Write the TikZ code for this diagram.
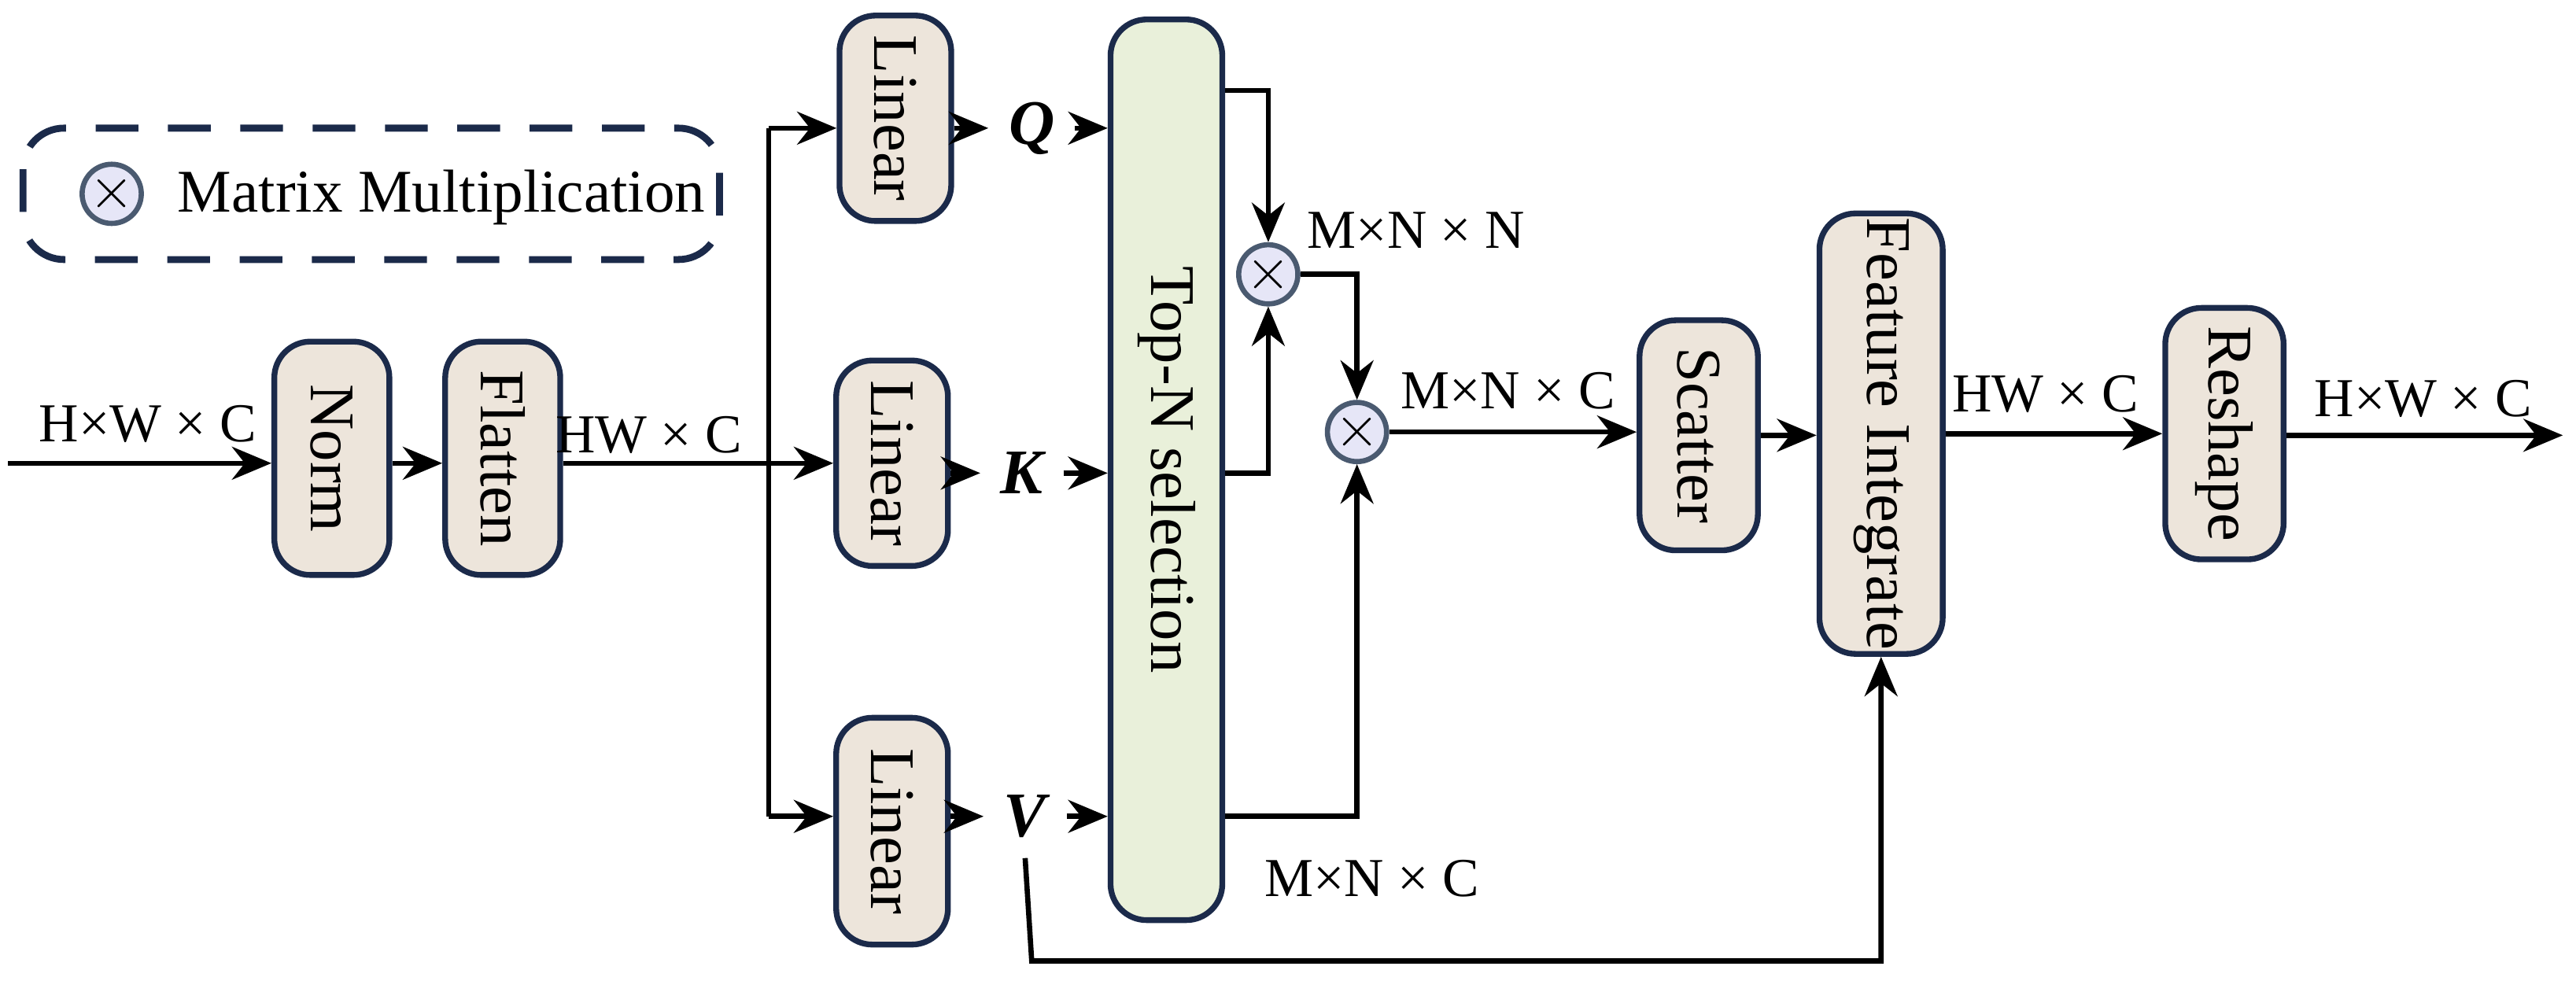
\documentclass[tikz,border=0pt]{standalone}
\usepackage{fontspec}
\setmainfont{Liberation Serif}
\usetikzlibrary{arrows.meta}
\definecolor{edgeblue}{HTML}{1B2A4A}
\definecolor{boxfill}{HTML}{EDE5DB}
\definecolor{selfill}{HTML}{E9F0DA}
\definecolor{mulfill}{HTML}{E6E6F7}
\definecolor{mulline}{HTML}{4A5A70}
\begin{document}
\begin{tikzpicture}[x=0.01cm,y=-0.01cm,
    blk/.style={rectangle, rounded corners=2.2mm, draw=edgeblue, line width=1pt, fill=boxfill, inner sep=0pt},
    lbl/.style={font=\fontsize{11}{13}\selectfont, rotate=-90},
    dim/.style={font=\fontsize{9.5}{11}\selectfont, inner sep=1pt},
    mul/.style={circle, draw=mulline, line width=0.9pt, fill=mulfill, minimum size=0.36cm, inner sep=0pt},
    arr/.style={-{Stealth[length=2.4mm,width=2mm]}, line width=0.9pt}]
    \useasboundingbox (0,0) rectangle (1568,597);

    % legend
    \draw[edgeblue, line width=1.2pt, dash pattern=on 2.6mm off 1.8mm, rounded corners=2.5mm] (14,78) rectangle (438,158);
    \node[mul] (lm) at (68,118) {$\times$};
    \node[dim, anchor=west, font=\fontsize{10.5}{12}\selectfont] (lt) at (104,120) {Matrix Multiplication};

    % blocks
    \node[blk, minimum width=0.7cm, minimum height=1.42cm] (norm) at (202,279) {};
    \node[lbl] at (norm) {Norm};
    \node[blk, minimum width=0.7cm, minimum height=1.42cm] (flat) at (306,279) {};
    \node[lbl] at (flat) {Flatten};
    \node[blk, minimum width=0.68cm, minimum height=1.25cm] (lq) at (545,72) {};
    \node[lbl] at (lq) {Linear};
    \node[blk, minimum width=0.68cm, minimum height=1.25cm] (lk) at (543,282) {};
    \node[lbl] at (lk) {Linear};
    \node[blk, minimum width=0.68cm, minimum height=1.38cm] (lv) at (543,506) {};
    \node[lbl] at (lv) {Linear};
    \node[blk, fill=selfill, minimum width=0.68cm, minimum height=5.48cm] (top) at (710,286) {};
    \node[lbl] at (top) {Top-N selection};
    \node[blk, minimum width=0.72cm, minimum height=1.4cm] (scat) at (1034,265) {};
    \node[lbl] at (scat) {Scatter};
    \node[blk, minimum width=0.75cm, minimum height=2.68cm] (fint) at (1145,264) {};
    \node[lbl] at (fint) {Feature Integrate};
    \node[blk, minimum width=0.72cm, minimum height=1.53cm] (resh) at (1354,264) {};
    \node[lbl] at (resh) {Reshape};

    \node[mul] (m1) at (772,167) {$\times$};
    \node[mul] (m2) at (826,263) {$\times$};

    \node[font=\fontsize{11}{13}\selectfont\bfseries\itshape] (q) at (628,78) {Q};
    \node[font=\fontsize{11}{13}\selectfont\bfseries\itshape] (k) at (622,288) {K};
    \node[font=\fontsize{11}{13}\selectfont\bfseries\itshape] (v) at (624,497) {V};

    \coordinate (in) at (5,282);
    \coordinate (out) at (1560,265);
    \coordinate (br) at (468,282);

    % labels
    \node[dim] at (90,258) {H×W × C};
    \node[dim] at (395,265) {HW × C};
    \node[dim] at (862,140) {M×N × N};
    \node[dim] at (918,238) {M×N × C};
    \node[dim] at (835,535) {M×N × C};
    \node[dim] at (1245,240) {HW × C};
    \node[dim] at (1475,243) {H×W × C};

    % connectors
    \draw[arr] (in) -- (in -| norm.west);
    \draw[arr] (norm.east |- in) -- (flat.west |- in);
    \draw[arr] (flat.east |- in) -- (lk.west |- in);
    \draw[line width=0.9pt] (br |- q) -- (br |- v);
    \draw[arr] (br |- q) -- (lq.west |- q);
    \draw[arr] (br |- v) -- (lv.west |- v);
    \draw[arr] (lq.east |- q) -- (q.west);
    \draw[arr] (q.east) -- (top.west |- q);
    \draw[arr] (lk.east |- k) -- (k.west);
    \draw[arr] (k.east) -- (top.west |- k);
    \draw[arr] (lv.east |- v) -- (v.west);
    \draw[arr] (v.east) -- (top.west |- v);
    \draw[arr] (top.east |- 0,55) -| (m1.north);
    \draw[arr] (top.east |- k) -| (m1.south);
    \draw[arr] (m1.east) -| (m2.north);
    \draw[arr] (top.east |- v) -| (m2.south);
    \draw[arr] (m2.east) -- (scat.west |- m2);
    \draw[arr] (scat.east) -- (fint.west |- scat);
    \draw[arr] (v.south) -- (628,585) -| (fint.south);
    \draw[arr] (fint.east) -- (resh.west |- fint);
    \draw[arr] (resh.east |- out) -- (out);
\end{tikzpicture}
\end{document}
